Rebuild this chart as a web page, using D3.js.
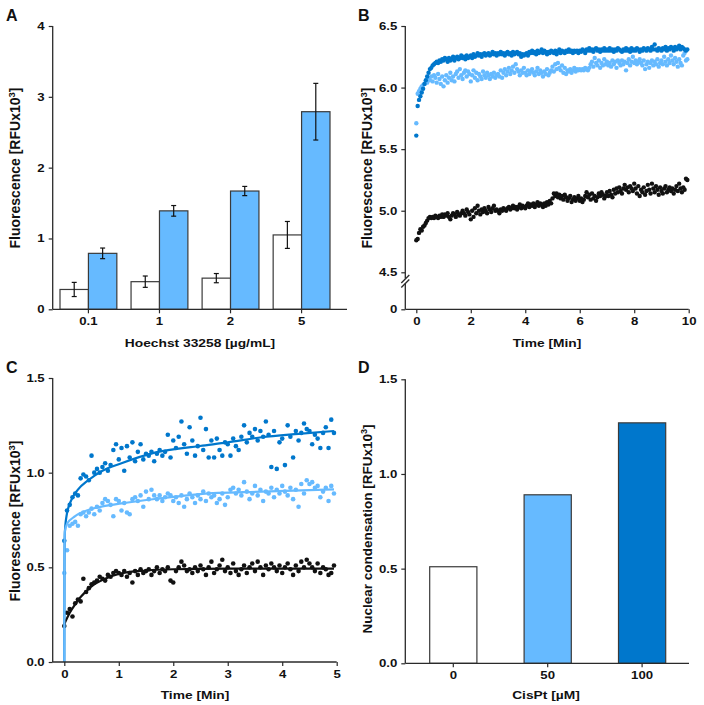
<!DOCTYPE html>
<html><head><meta charset="utf-8">
<script src="https://cdn.jsdelivr.net/npm/d3@7"></script>
<style>body{margin:0;background:#fff}svg{display:block}</style>
</head><body><svg id="c" width="704" height="705"></svg>
<script>
// ---------- Panel A data ----------
const hoechstConc = ["0.1", "1", "2", "5"];
const controlMean = [0.28, 0.39, 0.44, 1.05];
const controlErr  = [0.10, 0.08, 0.065, 0.19];
const treatedMean = [0.79, 1.39, 1.67, 2.79];
const treatedErr  = [0.075, 0.075, 0.065, 0.40];
const ticksA = [0, 1, 2, 3, 4];

// ---------- Panel B data (every 0.05 min) ----------
const bStep = 0.05;
const bDark = [
5.61,5.85,5.90,5.93,5.96,5.99,6.03,6.06,6.09,6.12,6.15,6.16,6.18,6.19,6.20,6.21,6.20,6.22,6.21,6.23,
6.22,6.24,6.23,6.21,6.24,6.22,6.23,6.25,6.22,6.24,6.25,6.23,6.24,6.26,6.24,6.25,6.23,6.26,6.24,6.25,
6.26,6.24,6.27,6.25,6.26,6.28,6.26,6.27,6.25,6.27,6.28,6.26,6.27,6.28,6.26,6.27,6.29,6.27,6.28,6.26,
6.28,6.27,6.29,6.27,6.28,6.26,6.28,6.29,6.27,6.28,6.26,6.29,6.27,6.28,6.29,6.27,6.28,6.25,6.27,6.26,
6.27,6.28,6.26,6.29,6.28,6.30,6.28,6.29,6.27,6.30,6.28,6.29,6.31,6.28,6.30,6.29,6.27,6.29,6.28,6.30,
6.29,6.28,6.30,6.27,6.29,6.31,6.28,6.30,6.29,6.28,6.30,6.29,6.31,6.29,6.30,6.28,6.30,6.29,6.30,6.28,
6.30,6.29,6.31,6.30,6.28,6.31,6.30,6.32,6.30,6.31,6.29,6.31,6.32,6.30,6.31,6.29,6.31,6.30,6.32,6.30,
6.31,6.30,6.32,6.30,6.31,6.29,6.31,6.30,6.32,6.31,6.30,6.29,6.31,6.30,6.32,6.30,6.31,6.29,6.32,6.30,
6.31,6.30,6.32,6.31,6.29,6.31,6.30,6.32,6.31,6.30,6.32,6.31,6.30,6.33,6.31,6.35,6.31,6.30,6.32,6.31,
6.30,6.32,6.31,6.33,6.30,6.32,6.31,6.33,6.32,6.30,6.33,6.31,6.32,6.34,6.31,6.33,6.32,6.31,6.30,6.31];
const bLight = [
5.71,5.95,5.97,5.99,6.01,6.02,6.03,6.05,6.04,6.07,6.06,6.09,6.05,6.10,6.08,6.04,6.11,6.07,6.03,6.09,
6.01,6.06,6.10,6.04,6.08,6.12,6.06,6.09,6.05,6.11,6.13,6.08,6.15,6.10,6.07,6.12,6.14,6.09,6.13,6.11,
6.05,6.10,6.14,6.08,6.12,6.06,6.11,6.09,6.07,6.13,6.10,6.08,6.12,6.10,6.07,6.11,6.09,6.12,6.08,6.10,
6.11,6.09,6.14,6.08,6.12,6.15,6.10,6.13,6.16,6.11,6.14,6.17,6.12,6.19,6.15,6.13,6.10,6.14,6.12,6.16,
6.12,6.10,6.14,6.11,6.13,6.15,6.12,6.10,6.13,6.16,6.11,6.14,6.12,6.09,6.13,6.11,6.15,6.10,6.12,6.14,
6.17,6.13,6.19,6.15,6.20,6.16,6.14,6.18,6.12,6.16,6.11,6.14,6.13,6.15,6.12,6.14,6.16,6.13,6.15,6.14,
6.15,6.14,6.15,6.14,6.16,6.15,6.14,6.16,6.19,6.21,6.17,6.24,6.20,6.18,6.22,6.16,6.20,6.18,6.23,6.19,
6.21,6.18,6.20,6.17,6.22,6.19,6.21,6.16,6.22,6.20,6.18,6.22,6.19,6.21,6.14,6.20,6.23,6.18,6.21,6.25,
6.20,6.22,6.19,6.21,6.23,6.20,6.18,6.22,6.15,6.19,6.21,6.16,6.20,6.22,6.18,6.21,6.19,6.23,6.17,6.20,
6.22,6.19,6.25,6.21,6.18,6.23,6.20,6.26,6.22,6.19,6.24,6.21,6.17,6.23,6.20,6.18,6.26,6.28,6.22,6.23];
const bBlack = [
4.76,4.77,4.82,4.85,4.84,4.87,4.88,4.90,4.92,4.94,4.95,4.94,4.95,4.94,4.96,4.95,4.94,4.96,4.95,4.97,
4.95,4.97,4.96,4.98,4.95,4.93,4.96,4.98,4.97,4.95,4.99,4.97,4.96,4.98,5.00,4.98,4.96,5.01,4.99,4.97,
4.93,5.00,4.95,5.02,4.98,5.04,5.00,4.97,5.01,4.99,5.02,5.00,4.98,5.03,5.01,4.99,5.02,5.04,5.00,5.01,
5.00,4.98,5.01,5.00,5.02,5.01,5.00,5.02,5.03,5.01,5.02,5.04,5.02,5.03,5.01,5.03,5.05,5.02,5.04,5.03,
5.02,5.04,5.06,5.03,5.05,5.04,5.06,5.03,5.05,5.07,5.04,5.06,5.05,5.03,5.06,5.04,5.07,5.05,5.08,5.06,
5.10,5.14,5.12,5.14,5.11,5.13,5.10,5.12,5.09,5.13,5.11,5.08,5.10,5.12,5.07,5.09,5.11,5.08,5.10,5.12,
5.08,5.10,5.07,5.09,5.12,5.15,5.11,5.13,5.09,5.14,5.10,5.12,5.08,5.11,5.14,5.12,5.15,5.13,5.10,5.12,
5.15,5.12,5.16,5.13,5.11,5.17,5.14,5.18,5.15,5.19,5.16,5.14,5.18,5.21,5.17,5.19,5.15,5.20,5.18,5.16,
5.22,5.18,5.14,5.20,5.12,5.17,5.15,5.19,5.13,5.16,5.21,5.17,5.14,5.22,5.18,5.15,5.20,5.17,5.13,5.19,
5.16,5.14,5.18,5.20,5.15,5.17,5.19,5.16,5.18,5.14,5.17,5.20,5.16,5.22,5.18,5.15,5.19,5.17,5.26,5.25];
const ticksBx = [0, 2, 4, 6, 8, 10];
const ticksBy = [4.5, 5.0, 5.5, 6.0, 6.5];

// ---------- Panel C data (every 0.05 min) ----------
const cStep = 0.05;
const cDark = [
0.64,0.80,0.83,0.87,0.89,0.88,0.97,0.99,0.98,0.96,1.09,1.00,1.02,1.00,1.03,1.05,1.01,1.04,1.12,1.15,
1.07,1.13,1.01,1.14,1.08,1.16,1.06,1.11,1.15,1.07,1.10,1.09,1.11,1.06,1.10,1.12,1.09,1.11,1.20,1.08,
1.17,1.13,1.19,1.27,1.15,1.10,1.24,1.17,1.09,1.14,1.29,1.12,1.23,1.08,1.17,1.08,1.18,1.12,1.09,1.16,
1.15,1.09,1.18,1.14,1.12,1.19,1.25,1.16,1.21,1.19,1.23,1.17,1.22,1.19,1.27,1.20,1.03,1.22,1.02,1.16,
1.18,1.04,1.25,1.19,1.08,1.22,1.17,1.21,1.26,1.23,1.22,1.15,1.20,1.18,1.13,1.21,1.24,1.13,1.28,1.21];
const cLight = [
0.47,0.59,0.72,0.73,0.74,0.72,0.78,0.79,0.77,0.79,0.81,0.78,0.82,0.80,0.84,0.86,0.85,0.83,0.77,0.86,
0.85,0.80,0.84,0.79,0.78,0.86,0.87,0.85,0.88,0.82,0.90,0.86,0.91,0.88,0.86,0.88,0.85,0.87,0.89,0.88,
0.85,0.87,0.84,0.88,0.82,0.86,0.89,0.87,0.84,0.88,0.86,0.90,0.85,0.89,0.87,0.88,0.84,0.86,0.89,0.83,
0.87,0.91,0.92,0.89,0.91,0.88,0.95,0.90,0.86,0.89,0.93,0.88,0.91,0.85,0.90,0.89,0.92,0.87,0.91,0.89,
0.93,0.90,0.88,0.92,0.86,0.91,0.82,0.94,0.89,0.96,0.94,0.95,0.92,0.93,0.87,0.90,0.92,0.85,0.93,0.89];
const cBlack = [
0.19,0.26,0.28,0.24,0.31,0.33,0.32,0.44,0.37,0.39,0.41,0.42,0.43,0.45,0.44,0.43,0.46,0.45,0.47,0.48,
0.47,0.46,0.48,0.45,0.47,0.42,0.48,0.46,0.49,0.47,0.48,0.49,0.46,0.48,0.50,0.47,0.49,0.48,0.50,0.43,
0.42,0.48,0.50,0.53,0.51,0.48,0.49,0.47,0.50,0.48,0.51,0.49,0.46,0.50,0.53,0.47,0.49,0.51,0.54,0.48,
0.50,0.47,0.52,0.48,0.46,0.49,0.51,0.47,0.50,0.52,0.48,0.53,0.50,0.46,0.51,0.49,0.52,0.50,0.48,0.51,
0.47,0.50,0.52,0.49,0.46,0.51,0.48,0.53,0.50,0.54,0.52,0.50,0.48,0.52,0.47,0.50,0.49,0.46,0.47,0.51];
// fitted curves
const fitDarkT  = [0, 0.003, 0.01, 0.04, 0.13, 0.25, 0.44, 0.7, 1.05, 1.66, 2.49, 3.0, 3.62, 4.3, 4.95];
const fitDarkV  = [0, 0.5, 0.68, 0.77, 0.856, 0.91, 0.96, 1.01, 1.05, 1.106, 1.141, 1.16, 1.187, 1.205, 1.22];
const fitLightT = [0, 0.003, 0.01, 0.05, 0.2, 0.44, 0.7, 1.05, 1.66, 2.49, 3.62, 4.95];
const fitLightV = [0, 0.5, 0.69, 0.73, 0.77, 0.803, 0.822, 0.838, 0.861, 0.887, 0.9, 0.912];
const fitBlackT = [0, 0.1, 0.2, 0.3, 0.5, 0.75, 1, 1.5, 2, 3, 4, 4.95];
const fitBlackV = [0.2, 0.26, 0.305, 0.343, 0.40, 0.44, 0.465, 0.483, 0.49, 0.493, 0.493, 0.493];
const ticksCx = [0, 1, 2, 3, 4, 5];
const ticksCy = [0, 0.5, 1.0, 1.5];

// ---------- Panel D data ----------
const cisPtConc = ["0", "50", "100"];
const condensation = [0.51, 0.89, 1.27];
const ticksDy = [0, 0.5, 1.0, 1.5];

// ---------- style ----------
const FONT = '"Liberation Sans", Arial, Helvetica, sans-serif';
const AX = "#2a2a2a";
const LIGHT = "#66BAFF", DARK = "#0077CC", BLACK = "#111";
const SX = 1.2;       // horizontal stretch of the horizontal texts
const svg = d3.select("#c");

function panelLabel(t, x, y) {
  svg.append("text").attr("x", x).attr("y", y).attr("font-family", FONT)
    .attr("font-size", 16).attr("font-weight", "bold").attr("fill", "#111").text(t);
}
function yTitle(main, cx, cy, fs) {
  const t = svg.append("text").attr("transform", `translate(${cx},${cy}) rotate(-90)`)
    .attr("text-anchor", "middle").attr("font-family", FONT).attr("font-size", fs)
    .attr("font-weight", "bold").attr("fill", "#111");
  t.append("tspan").text(main);
  t.append("tspan").attr("dy", -5.5).attr("font-size", fs * 0.68).text("3");
  t.append("tspan").attr("dy", 5.5).text("]");
}
function xTitle(txt, cx, y) {
  svg.append("text").attr("transform", `translate(${cx},${y}) scale(${SX},1)`)
    .attr("text-anchor", "middle")
    .attr("font-family", FONT).attr("font-size", 11.5).attr("font-weight", "bold")
    .attr("fill", "#111").text(txt);
}
function styleAxis(g, left) {
  g.select(".domain").remove();
  g.selectAll(".tick line").attr("stroke", AX).attr("stroke-width", 1.2);
  const tx = g.selectAll(".tick text").attr("font-family", FONT).attr("font-size", 11)
    .attr("font-weight", "bold").attr("fill", "#111").attr("transform", `scale(${SX},1)`);
  if (left) tx.attr("x", -8 / SX);
}
function line(x1, y1, x2, y2) {
  svg.append("line").attr("x1", x1).attr("y1", y1).attr("x2", x2).attr("y2", y2)
    .attr("stroke", AX).attr("stroke-width", 1.3);
}

// ================= Panel A =================
{
  const L = 52.7, R = 347, T = 26, B = 309.3;
  const y = d3.scaleLinear([0, 4], [B, T]);
  const x = d3.scaleBand(hoechstConc, [60, 330]).paddingInner(0.2).paddingOuter(0);
  const bw = x.bandwidth() / 2;
  const g = svg.append("g");
  hoechstConc.forEach((c, i) => {
    [[controlMean[i], controlErr[i], "#fff", 0], [treatedMean[i], treatedErr[i], LIGHT, 1]].forEach(([m, e, col, k]) => {
      const x0 = x(c) + k * bw;
      g.append("rect").attr("x", x0).attr("y", y(m)).attr("width", bw).attr("height", y(0) - y(m))
        .attr("fill", col).attr("stroke", "#3a3a3a").attr("stroke-width", 1.2);
      const cx = x0 + bw / 2;
      g.append("line").attr("x1", cx).attr("x2", cx).attr("y1", y(m - e)).attr("y2", y(m + e))
        .attr("stroke", "#111").attr("stroke-width", 1.2);
      [m - e, m + e].forEach(v => g.append("line").attr("x1", cx - 2.5).attr("x2", cx + 2.5)
        .attr("y1", y(v)).attr("y2", y(v)).attr("stroke", "#111").attr("stroke-width", 1.2));
    });
  });
  svg.append("g").attr("transform", `translate(${L},0)`)
    .call(d3.axisLeft(y).tickValues(ticksA).tickFormat(d3.format("d")).tickSize(4).tickSizeOuter(0))
    .call(g => styleAxis(g, true));
  svg.append("g").attr("transform", `translate(0,${B})`)
    .call(d3.axisBottom(x).tickSize(4).tickSizeOuter(0).tickPadding(4))
    .call(g => styleAxis(g, false));
  line(L, T, L, B); line(L, B, R, B);
  panelLabel("A", 6, 21);
  yTitle("Fluorescence [RFUx10", 20, 168, 14);
  xTitle("Hoechst 33258 [µg/mL]", 200, 347);
}

// ================= Panel B =================
{
  const L = 405.3, R = 688.7, T = 26, B = 309.3;
  const x = d3.scaleLinear([0, 10], [416.3, 688.7]);
  const y = d3.scaleLinear([4.5, 6.5], [272.3, T]);
  const y0 = d3.scaleLinear([0, 1], [B, B - 120]);
  const g = svg.append("g");
  [[bBlack, BLACK], [bLight, LIGHT], [bDark, DARK]].forEach(([arr, col]) => {
    g.selectAll(null).data(arr).join("circle")
      .attr("cx", (d, i) => x(i * bStep)).attr("cy", d => y(d)).attr("r", 2.2).attr("fill", col);
  });
  svg.append("g").attr("transform", `translate(${L},0)`)
    .call(d3.axisLeft(y).tickValues(ticksBy).tickFormat(d3.format(".1f")).tickSize(4).tickSizeOuter(0))
    .call(g => styleAxis(g, true));
  svg.append("g").attr("transform", `translate(${L},0)`)
    .call(d3.axisLeft(y0).tickValues([0]).tickFormat(d3.format("d")).tickSize(4).tickSizeOuter(0))
    .call(g => styleAxis(g, true));
  svg.append("g").attr("transform", `translate(0,${B})`)
    .call(d3.axisBottom(x).tickValues(ticksBx).tickFormat(d3.format("d")).tickSize(4).tickSizeOuter(0).tickPadding(4))
    .call(g => styleAxis(g, false));
  // broken y axis
  line(L, T, L, 278.5); line(L, 283.5, L, B); line(L, B, R, B);
  line(L - 4, 283, L + 4, 275); line(L - 4, 287.5, L + 4, 279.5);
  panelLabel("B", 358, 21);
  yTitle("Fluorescence [RFUx10", 372, 168, 14);
  xTitle("Time [Min]", 547, 347);
}

// ================= Panel C =================
{
  const L = 52.7, R = 336.7, T = 378, B = 662;
  const x = d3.scaleLinear([0, 5], [64.3, 336.7]);
  const y = d3.scaleLinear([0, 1.5], [B, T]);
  const g = svg.append("g");
  [[cBlack, BLACK], [cLight, LIGHT], [cDark, DARK]].forEach(([arr, col]) => {
    g.selectAll(null).data(arr).join("circle")
      .attr("cx", (d, i) => x(i * cStep)).attr("cy", d => y(d)).attr("r", 2.3).attr("fill", col);
  });
  const lg = d3.line().x(d => x(d[0])).y(d => y(d[1])).curve(d3.curveMonotoneX);
  [[fitDarkT, fitDarkV, DARK], [fitBlackT, fitBlackV, BLACK], [fitLightT, fitLightV, LIGHT]].forEach(([ts, vs, col]) => {
    g.append("path").attr("d", lg(ts.map((t, i) => [t, vs[i]]))).attr("fill", "none")
      .attr("stroke", col).attr("stroke-width", 2.2);
  });
  svg.append("g").attr("transform", `translate(${L},0)`)
    .call(d3.axisLeft(y).tickValues(ticksCy).tickFormat(d3.format(".1f")).tickSize(4).tickSizeOuter(0))
    .call(g => styleAxis(g, true));
  svg.append("g").attr("transform", `translate(0,${B})`)
    .call(d3.axisBottom(x).tickValues(ticksCx).tickFormat(d3.format("d")).tickSize(4).tickSizeOuter(0).tickPadding(4))
    .call(g => styleAxis(g, false));
  line(L, T, L, B); line(L, B, R, B);
  panelLabel("C", 6, 373);
  yTitle("Fluorescence [RFUx10", 20, 521, 14);
  xTitle("Time [Min]", 195, 699);
}

// ================= Panel D =================
{
  const L = 405.3, R = 689, T = 379.3, B = 663.3;
  const y = d3.scaleLinear([0, 1.5], [B, T]);
  const x = d3.scaleBand(cisPtConc, [429.7, 665.7]).paddingInner(0.5).paddingOuter(0);
  const cols = ["#fff", LIGHT, DARK];
  svg.append("g").selectAll("rect").data(condensation).join("rect")
    .attr("x", (d, i) => x(cisPtConc[i])).attr("y", d => y(d)).attr("width", x.bandwidth())
    .attr("height", d => y(0) - y(d)).attr("fill", (d, i) => cols[i])
    .attr("stroke", "#3a3a3a").attr("stroke-width", 1.2);
  svg.append("g").attr("transform", `translate(${L},0)`)
    .call(d3.axisLeft(y).tickValues(ticksDy).tickFormat(d3.format(".1f")).tickSize(4).tickSizeOuter(0))
    .call(g => styleAxis(g, true));
  svg.append("g").attr("transform", `translate(0,${B})`)
    .call(d3.axisBottom(x).tickSize(4).tickSizeOuter(0).tickPadding(4))
    .call(g => styleAxis(g, false));
  line(L, T, L, B); line(L, B, R, B);
  panelLabel("D", 358, 373);
  yTitle("Nuclear condensation [RFUx10", 372, 529, 13.5);
  xTitle("CisPt [µM]", 546, 699);
}
</script></body></html>
